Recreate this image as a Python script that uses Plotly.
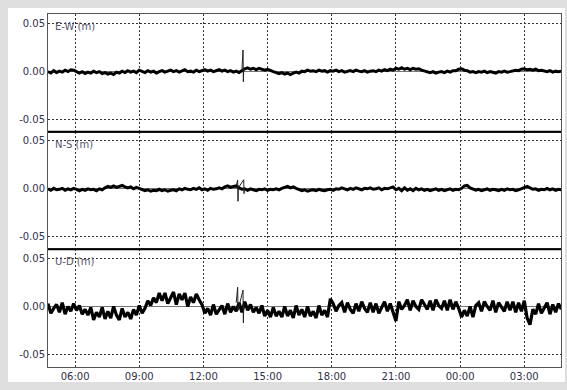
import pandas as pd
import plotly.graph_objects as go

# ---------------- data (mm), 8-minute samples starting 04:44 ----------------
start_time = "2016-04-14 04:44"
step = "8min"

ew_mm = [
    -0.5, -2, 0.5, -1.5, 0, -1, 1, -0.5, 1.5, 1,
    -0.5, -2, -0.5, -2.5, -1, -2, 0, -1.5, -0.5, -2.5,
    -1.5, -3, -2, -3.5, -1, -2, 0, -1.5, 0.5, -1,
    0, -1.5, 1, -0.5, -1.5, 0.5, -1, 0, -2, -0.5,
    0.5, -1, 0, 1, -0.5, 0.5, -1, 0, 1.5, -0.5,
    0, -1, 1, -0.5, 0.5, 1.5, 0, 1, -0.5, 0.5,
    1.5, 0, 1, -0.5, 0.5, -1, 0, -1.5, 0.5, 2.5,
    3.5, 2, 3, 1.5, 3, 2, 1, 2, 0.5, -0.5,
    -1.5, -2.5, -1.5, -3, -2, -3.5, -2, -1, -2, 0,
    -0.5, 1, 0, 0.5, -0.5, 1, 0, 0.5, -1, 0.5,
    0, 1, -0.5, 0.5, -1, 0, 0.5, -0.5, 1, 0,
    -0.5, 0.5, -1, 0, 0.5, -0.5, 1, 0, 1.5, 0.5,
    2, 1, 3, 2, 3.5, 2, 3, 1.5, 3, 2,
    2.5, 1, 0, -1, -1.5, -0.5, -2, -1, -0.5, -1.5,
    0, -1, 0.5, 0.5, 2, 2.5, 1, 0.5, -1, -0.5,
    -1.5, -0.5, -1, 0, -1.5, -0.5, -1, -2, -0.5, -1,
    0, -1, -0.5, 0, 1, 0.5, 2, 2.5, 1.5, 2,
    1, 2, 0.5, 1, 0, -0.5, 0.5, -1, 0, -0.5,
    0,
]

ns_mm = [
    0, -1.5, 0.5, -1, -0.5, 0.5, -1.5, 0, -1, 0.5,
    -0.5, -2, -0.5, -1.5, 0, -1, -0.5, -2, 0, -1,
    1, 2.5, 1.5, 3, 1.5, 2.5, 3.5, 2, 1, 2,
    0, 1.5, 0.5, -1, -2, -1, -2.5, -1.5, -2, -0.5,
    -2, -1, -2.5, -1.5, -1, -2, 0, -1, 0.5, -0.5,
    -1, 0.5, -0.5, 1, -1, 0, -1.5, 0.5, -0.5, 0,
    1, 0, 2, 3, 1.5, 2.5, 3, 1, -0.5, 0,
    -1.5, 0, -1, -2, -0.5, -1, 0, -1.5, -0.5, -1,
    0, -1, 0.5, 1.5, 2.5, 1, 2, 0.5, -1, -2,
    -1, -2.5, -1.5, -1, -2, -0.5, -1.5, -2, -1, -0.5,
    -1.5, 0, -0.5, 1, 0, -1, 0.5, -0.5, 1, 0,
    -1, 0.5, 0, 1, -0.5, 0, 1, -1, 0.5, 0,
    1, 2, -1, 0.5, -2, 1, -1.5, 0, -2, 0.5,
    -1, 0, -1.5, -0.5, -2, -1, 0, -1.5, -0.5, -2,
    -1, 0, -1.5, -0.5, -1, 0.5, 3, 3.5, 1, -0.5,
    -1.5, -0.5, -2, -1, 0, -1.5, -0.5, -1, -2, -0.5,
    -1.5, 0, -1, -0.5, -2, -1, 0, 1.5, 2.5, 1,
    -0.5, 0, -1.5, -0.5, -1, 0.5, -1, 0, -1.5, -0.5,
    -1,
]

ud_mm = [
    3, -7, -2, 2, -6, 4, -8, 0, -5, 3,
    -4, 1, -8, -3, -9, -1, -14, -6, -11, -1,
    -13, -5, -12, 0, -9, -14, -2, -11, -6, -13,
    -3, -9, 1, -7, -2, 6, 1, 9, 4, 14,
    6, 14, 3, 10, 15, 2, 13, 7, 14, 0,
    10, 4, 13, 7, 2, -7, -2, -9, 2, -8,
    -3, 1, -8, 3, -6, 0, -5, 4, -6, 5,
    -4, 2, -6, -1, -7, 1, -10, -4, -11, -1,
    -10, -5, -11, 0, -10, -4, -12, 1, -9, -3,
    -11, 0, -10, -5, -12, 1, -9, -4, -11, 8,
    3, -5, 1, 4, -6, 4, -3, -7, 3, -5,
    5, -2, -6, 4, -6, 3, -7, 0, 5, -5,
    3, -6, -15, 5, -3, 1, 7, -4, 6, 0,
    -3, 7, 2, -3, 6, -4, 7, 1, -2, 6,
    -4, 7, -3, 5, -2, -11, -4, -10, 0, -11,
    1, 4, -5, 5, 0, -4, 6, -6, 4, -1,
    -5, 5, -4, 5, -6, 4, -5, 6, -12, -19,
    -3, -8, 3, -7, -1, 4, -8, 2, -6, 3,
    -3,
]

# short spikes around 13:36-13:55
ew_spike_t = ["2016-04-14 13:48", "2016-04-14 13:51", "2016-04-14 13:52", "2016-04-14 13:53", "2016-04-14 13:56"]
ew_spike_mm = [0.5, 22, -11, 2, 2.5]
ns_spike_t = ["2016-04-14 13:32", "2016-04-14 13:36", "2016-04-14 13:37", "2016-04-14 13:38",
              "2016-04-14 13:53", "2016-04-14 13:54", "2016-04-14 13:55"]
ns_spike_mm = [3, 9, -13, 1, 9.5, -5, 0]
ud_spike_t = ["2016-04-14 13:32", "2016-04-14 13:36", "2016-04-14 13:37", "2016-04-14 13:51",
              "2016-04-14 13:52", "2016-04-14 13:53"]
ud_spike_mm = [4, 20, -4, 17, -17, 0]

panel_labels = ["E-W (m)", "N-S (m)", "U-D (m)"]
ytick_vals = [-0.05, 0.0, 0.05]
ytick_text = ["-0.05", "0.00", "0.05"]
x_range = ["2016-04-14 04:44", "2016-04-15 04:43"]


def build(values_mm):
    t = pd.date_range(start_time, periods=len(values_mm), freq=step)
    return t, [v / 1000.0 for v in values_mm]


series = [build(ew_mm), build(ns_mm), build(ud_mm)]
spikes = [(pd.to_datetime(ew_spike_t), [v / 1000.0 for v in ew_spike_mm]),
          (pd.to_datetime(ns_spike_t), [v / 1000.0 for v in ns_spike_mm]),
          (pd.to_datetime(ud_spike_t), [v / 1000.0 for v in ud_spike_mm])]

# ---------------- figure ----------------
W, H = 567, 390
ml, mr, mt, mb = 48, 6, 14, 23
pw, ph = W - ml - mr, H - mt - mb

fig = go.Figure()
font = dict(family="DejaVu Sans", size=10, color="#30304a")
widths = [3.0, 3.0, 3.2]

domains = [[2 / 3, 1.0], [1 / 3, 2 / 3], [0.0, 1 / 3]]
for k, (tx, vy) in enumerate(series):
    sfx = "" if k == 0 else str(k + 1)
    fig.add_trace(go.Scatter(x=tx, y=vy, mode="lines",
                             line=dict(color="black", width=widths[k]),
                             xaxis="x" + sfx, yaxis="y" + sfx,
                             showlegend=False, hoverinfo="skip"))
    fig.add_trace(go.Scatter(x=spikes[k][0], y=spikes[k][1], mode="lines",
                             line=dict(color="#222222", width=1),
                             xaxis="x" + sfx, yaxis="y" + sfx,
                             showlegend=False, hoverinfo="skip"))
    fig.layout["xaxis" + sfx] = dict(
        domain=[0, 1], anchor="y" + sfx, range=x_range, type="date",
        tickformat="%H:%M", dtick=3 * 3600 * 1000, tick0="2016-04-14 00:00",
        showticklabels=(k == 2), ticks="", automargin=False,
        showgrid=True, gridcolor="#333333", griddash="2px,2px", gridwidth=1,
        showline=True, mirror=True, linecolor="#555555", linewidth=1,
        zeroline=False, tickfont=font,
        matches=None if k == 0 else "x",
    )
    fig.layout["yaxis" + sfx] = dict(
        domain=domains[k], anchor="x" + sfx, range=[-0.063, 0.0595],
        tickvals=ytick_vals, ticktext=ytick_text, ticks="", automargin=False,
        showgrid=True, gridcolor="#333333", griddash="2px,2px", gridwidth=1,
        zeroline=True, zerolinecolor="#777777", zerolinewidth=1,
        showline=True, mirror=True, linecolor="#555555", linewidth=1,
        tickfont=font,
    )
    fig.add_annotation(text=panel_labels[k], xref="paper", yref="y" + sfx + " domain",
                       x=0, y=1, xanchor="left", yanchor="top", xshift=5, yshift=-5,
                       showarrow=False,
                       font=dict(family="DejaVu Sans", size=10, color="#55556a"))

# white card on grey frame
fig.add_shape(type="rect", xref="paper", yref="paper", layer="below",
              x0=(8 - ml) / pw, x1=(565 - ml) / pw,
              y0=-(382 - (H - mb)) / ph, y1=1 + (mt - 8) / ph,
              fillcolor="white", line=dict(width=0))
# thick separators between panels
for yy in [1 / 3, 2 / 3]:
    fig.add_shape(type="line", xref="paper", yref="paper", x0=0, x1=1, y0=yy, y1=yy,
                  line=dict(color="black", width=2))

fig.update_layout(width=W, height=H, margin=dict(l=ml, r=mr, t=mt, b=mb),
                  paper_bgcolor="#dedede", plot_bgcolor="white", font=font)

fig.write_html("out.html", config={"displayModeBar": False},
               post_script="document.body.style.margin='0';document.body.style.overflow='hidden';")
